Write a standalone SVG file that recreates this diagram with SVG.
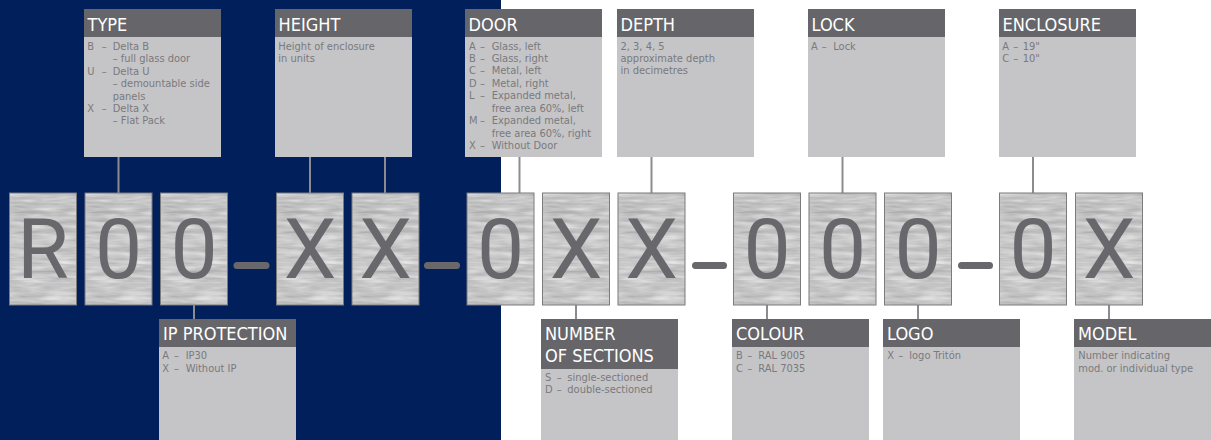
<svg xmlns="http://www.w3.org/2000/svg" xmlns:xlink="http://www.w3.org/1999/xlink" width="1211" height="440" viewBox="0 0 1211 440">
<style>
.hd{fill:#666569}
.bd{fill:#c5c5c7}
.ht{font-family:"DejaVu Sans Condensed","DejaVu Sans",sans-serif;font-stretch:condensed;font-size:18px;fill:#ffffff}
.bt{font-family:"DejaVu Sans Condensed","DejaVu Sans",sans-serif;font-stretch:condensed;font-size:11px;fill:#7a797d}
.lt{font-family:Roboto,"Liberation Sans",sans-serif;font-size:84px;fill:#68676c;text-anchor:middle}
.tb{stroke:#7b7b7e;stroke-width:1;fill:none}
.cn{stroke:#8c8c90;stroke-width:2;fill:none}
.ds{stroke:#68676c;stroke-width:7;stroke-linecap:round}
</style>
<defs>
<filter id="metal" x="0" y="0" width="1" height="1" color-interpolation-filters="sRGB">
<feTurbulence type="fractalNoise" baseFrequency="0.03 0.22" numOctaves="3" seed="4" result="n"/>
<feColorMatrix in="n" type="matrix" values="0.3 0 0 0 0.63  0.3 0 0 0 0.63  0.3 0 0 0 0.63  0 0 0 0 1" result="g"/>
<feComposite in="g" in2="SourceGraphic" operator="in"/>
</filter>
<g id="tile">
<rect x="0" y="0" width="67" height="112" fill="#bfbfbf" filter="url(#metal)"/>
<rect x="0" y="0" width="67" height="112" class="tb"/>
</g>
</defs>
<rect x="0" y="0" width="1211" height="440" fill="#ffffff"/>
<rect x="0" y="0" width="501" height="440" fill="#011f5b"/>

<g id="connectors">
<line class="cn" x1="118.5" y1="157" x2="118.5" y2="193"/>
<line class="cn" x1="310" y1="157" x2="310" y2="193"/>
<line class="cn" x1="385" y1="157" x2="385" y2="193"/>
<line class="cn" x1="519.5" y1="157" x2="519.5" y2="193"/>
<line class="cn" x1="651.5" y1="157" x2="651.5" y2="193"/>
<line class="cn" x1="842.5" y1="157" x2="842.5" y2="193"/>
<line class="cn" x1="1033" y1="157" x2="1033" y2="193"/>
<line class="cn" x1="194" y1="305" x2="194" y2="319"/>
<line class="cn" x1="576" y1="305" x2="576" y2="319"/>
<line class="cn" x1="767" y1="305" x2="767" y2="319"/>
<line class="cn" x1="918" y1="305" x2="918" y2="319"/>
<line class="cn" x1="1109" y1="305" x2="1109" y2="319"/>
</g>

<g id="code">
<g id="t1"><use xlink:href="#tile" x="9.5" y="193"/><text class="lt" x="43" y="278">R</text></g>
<g id="t2"><use xlink:href="#tile" x="85" y="193"/><text class="lt" x="118.5" y="278">0</text></g>
<g id="t3"><use xlink:href="#tile" x="160.5" y="193"/><text class="lt" x="194" y="278">0</text></g>
<line class="ds" x1="237" y1="265.5" x2="266" y2="265.5"/>
<g id="t4"><use xlink:href="#tile" x="276.5" y="193"/><text class="lt" x="310" y="278">X</text></g>
<g id="t5"><use xlink:href="#tile" x="352" y="193"/><text class="lt" x="385.5" y="278">X</text></g>
<line class="ds" x1="427.5" y1="265.5" x2="456.5" y2="265.5"/>
<g id="t6"><use xlink:href="#tile" x="467" y="193"/><text class="lt" x="500.5" y="278">0</text></g>
<g id="t7"><use xlink:href="#tile" x="542.5" y="193"/><text class="lt" x="576" y="278">X</text></g>
<g id="t8"><use xlink:href="#tile" x="618" y="193"/><text class="lt" x="651.5" y="278">X</text></g>
<line class="ds" x1="695.5" y1="265.5" x2="723.5" y2="265.5"/>
<g id="t9"><use xlink:href="#tile" x="733.5" y="193"/><text class="lt" x="767" y="278">0</text></g>
<g id="t10"><use xlink:href="#tile" x="809" y="193"/><text class="lt" x="842.5" y="278">0</text></g>
<g id="t11"><use xlink:href="#tile" x="884.5" y="193"/><text class="lt" x="918" y="278">0</text></g>
<line class="ds" x1="961.5" y1="265.5" x2="989.5" y2="265.5"/>
<g id="t12"><use xlink:href="#tile" x="999.5" y="193"/><text class="lt" x="1033" y="278">0</text></g>
<g id="t13"><use xlink:href="#tile" x="1075.5" y="193"/><text class="lt" x="1109" y="278">X</text></g>
</g>

<g id="type">
<rect class="bd" x="84" y="37" width="137" height="120"/>
<rect class="hd" x="84" y="9" width="137" height="28"/>
<text class="ht" x="87.5" y="31">TYPE</text>
<text class="bt"><tspan x="87.3" y="49.7">B</tspan><tspan x="101.7" y="49.7">–</tspan><tspan x="112.7" y="49.7">Delta B</tspan><tspan x="112.7" y="62.2">– full glass door</tspan><tspan x="87.3" y="74.6">U</tspan><tspan x="101.7" y="74.6">–</tspan><tspan x="112.7" y="74.6">Delta U</tspan><tspan x="112.7" y="87.1">– demountable side</tspan><tspan x="112.7" y="99.5">panels</tspan><tspan x="87.3" y="112">X</tspan><tspan x="101.7" y="112">–</tspan><tspan x="112.7" y="112">Delta X</tspan><tspan x="112.7" y="124.4">– Flat Pack</tspan></text>
</g>

<g id="height">
<rect class="bd" x="275" y="37" width="137" height="120"/>
<rect class="hd" x="275" y="9" width="137" height="28"/>
<text class="ht" x="278.5" y="31">HEIGHT</text>
<text class="bt"><tspan x="278.3" y="49.5">Height of enclosure</tspan><tspan x="278.3" y="62">in units</tspan></text>
</g>

<g id="door">
<rect class="bd" x="465" y="37" width="137" height="120"/>
<rect class="hd" x="465" y="9" width="137" height="28"/>
<text class="ht" x="468.5" y="31">DOOR</text>
<text class="bt"><tspan x="469" y="49.5">A</tspan><tspan x="480" y="49.5">–</tspan><tspan x="491.7" y="49.5">Glass, left</tspan><tspan x="469" y="62">B</tspan><tspan x="480" y="62">–</tspan><tspan x="491.7" y="62">Glass, right</tspan><tspan x="469" y="74.4">C</tspan><tspan x="480" y="74.4">–</tspan><tspan x="491.7" y="74.4">Metal, left</tspan><tspan x="469" y="86.9">D</tspan><tspan x="480" y="86.9">–</tspan><tspan x="491.7" y="86.9">Metal, right</tspan><tspan x="469" y="99.3">L</tspan><tspan x="480" y="99.3">–</tspan><tspan x="491.7" y="99.3">Expanded metal,</tspan><tspan x="491.7" y="111.8">free area 60%, left</tspan><tspan x="469" y="124.2">M</tspan><tspan x="480" y="124.2">–</tspan><tspan x="491.7" y="124.2">Expanded metal,</tspan><tspan x="491.7" y="136.7">free area 60%, right</tspan><tspan x="469" y="149.1">X</tspan><tspan x="480" y="149.1">–</tspan><tspan x="491.7" y="149.1">Without Door</tspan></text>
</g>

<g id="depth">
<rect class="bd" x="617" y="37" width="137" height="120"/>
<rect class="hd" x="617" y="9" width="137" height="28"/>
<text class="ht" x="620.5" y="31">DEPTH</text>
<text class="bt"><tspan x="620.5" y="49.5">2, 3, 4, 5</tspan><tspan x="620.5" y="62">approximate depth</tspan><tspan x="620.5" y="74.4">in decimetres</tspan></text>
</g>

<g id="lock">
<rect class="bd" x="808" y="37" width="137" height="120"/>
<rect class="hd" x="808" y="9" width="137" height="28"/>
<text class="ht" x="811.5" y="31">LOCK</text>
<text class="bt"><tspan x="811" y="49.5">A</tspan><tspan x="821.7" y="49.5">–</tspan><tspan x="833.3" y="49.5">Lock</tspan></text>
</g>

<g id="enclosure">
<rect class="bd" x="999" y="37" width="137" height="120"/>
<rect class="hd" x="999" y="9" width="137" height="28"/>
<text class="ht" x="1002.5" y="31">ENCLOSURE</text>
<text class="bt"><tspan x="1002.3" y="49.5">A</tspan><tspan x="1013.3" y="49.5">–</tspan><tspan x="1022.7" y="49.5">19"</tspan><tspan x="1002.3" y="62">C</tspan><tspan x="1013.3" y="62">–</tspan><tspan x="1022.7" y="62">10"</tspan></text>
</g>

<g id="ip-protection">
<rect class="bd" x="159" y="347" width="137" height="93"/>
<rect class="hd" x="159" y="319" width="137" height="28"/>
<text class="ht" x="163" y="340">IP PROTECTION</text>
<text class="bt"><tspan x="162.3" y="359.3">A</tspan><tspan x="174" y="359.3">–</tspan><tspan x="185.7" y="359.3">IP30</tspan><tspan x="162.3" y="372">X</tspan><tspan x="174" y="372">–</tspan><tspan x="185.7" y="372">Without IP</tspan></text>
</g>

<g id="sections">
<rect class="bd" x="541" y="369" width="137" height="71"/>
<rect class="hd" x="541" y="319" width="137" height="50"/>
<text class="ht"><tspan x="545" y="340">NUMBER</tspan><tspan x="545" y="362.3">OF SECTIONS</tspan></text>
<text class="bt"><tspan x="545" y="381">S</tspan><tspan x="556.7" y="381">–</tspan><tspan x="567.3" y="381">single-sectioned</tspan><tspan x="545" y="393.4">D</tspan><tspan x="556.7" y="393.4">–</tspan><tspan x="567.3" y="393.4">double-sectioned</tspan></text>
</g>

<g id="colour">
<rect class="bd" x="732" y="347" width="137" height="93"/>
<rect class="hd" x="732" y="319" width="137" height="28"/>
<text class="ht" x="736" y="340">COLOUR</text>
<text class="bt"><tspan x="736" y="359.3">B</tspan><tspan x="747.3" y="359.3">–</tspan><tspan x="758.3" y="359.3">RAL 9005</tspan><tspan x="736" y="372">C</tspan><tspan x="747.3" y="372">–</tspan><tspan x="758.3" y="372">RAL 7035</tspan></text>
</g>

<g id="logo">
<rect class="bd" x="883" y="347" width="137" height="93"/>
<rect class="hd" x="883" y="319" width="137" height="28"/>
<text class="ht" x="887" y="340">LOGO</text>
<text class="bt"><tspan x="887.3" y="359.3">X</tspan><tspan x="898.3" y="359.3">–</tspan><tspan x="909.3" y="359.3">logo Tritón</tspan></text>
</g>

<g id="model">
<rect class="bd" x="1074" y="347" width="137" height="93"/>
<rect class="hd" x="1074" y="319" width="137" height="28"/>
<text class="ht" x="1078" y="340">MODEL</text>
<text class="bt"><tspan x="1078.3" y="359.3">Number indicating</tspan><tspan x="1078.3" y="372">mod. or individual type</tspan></text>
</g>
</svg>
